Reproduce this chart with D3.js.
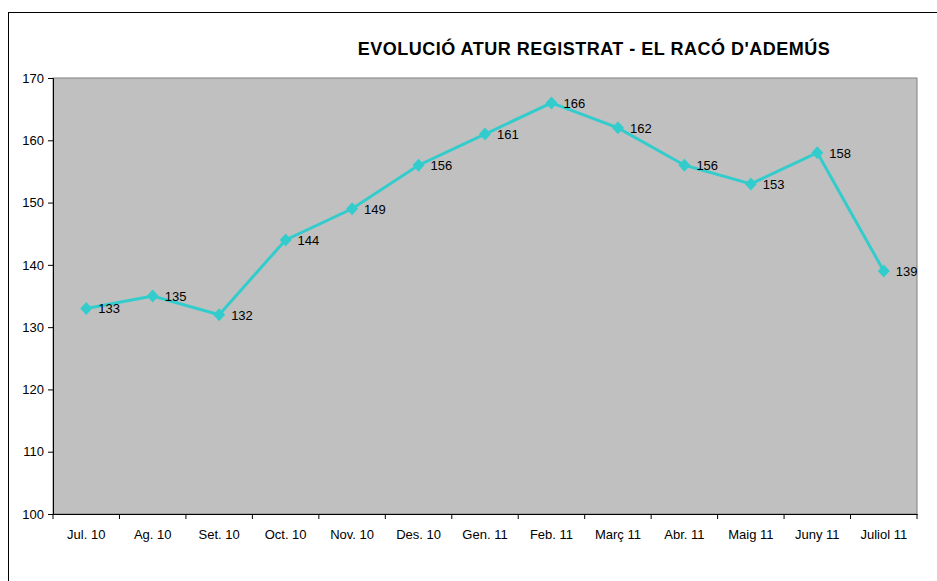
<!DOCTYPE html>
<html>
<head>
<meta charset="utf-8">
<script src="https://cdn.jsdelivr.net/npm/d3@7"></script>
<style>
body { margin: 0; background: #fff; }
svg { display: block; font-family: "Liberation Sans", Arial, sans-serif; }
</style>
</head>
<body>
<svg id="graphique" width="937" height="581"></svg>
<script>
var mesos = ["Jul. 10", "Ag. 10", "Set. 10", "Oct. 10", "Nov. 10", "Des. 10", "Gen. 11", "Feb. 11", "Març 11", "Abr. 11", "Maig 11", "Juny 11", "Juliol 11"];
var aturats = [133, 135, 132, 144, 149, 156, 161, 166, 162, 156, 153, 158, 139];
var yTicks = [100, 110, 120, 130, 140, 150, 160, 170];

var graphique = d3.select("#graphique");
var MARGINS = { top: 78, right: 20, bottom: 67, left: 53 };
var WIDTH = 937, HEIGHT = 581;

// marc exterior
graphique.append("rect")
	.attr("x", 8.5).attr("y", 12.5)
	.attr("width", 940).attr("height", 600)
	.attr("fill", "none").attr("stroke", "#000").attr("stroke-width", 1);

// titol
graphique.append("text")
	.attr("x", 594).attr("y", 55)
	.attr("text-anchor", "middle")
	.attr("font-size", 18).attr("font-weight", "bold")
	.attr("letter-spacing", 0.5)
	.text("EVOLUCIÓ ATUR REGISTRAT - EL RACÓ D'ADEMÚS");

var xScale = d3.scaleBand().domain(mesos).range([MARGINS.left, WIDTH - MARGINS.right]);
var yScale = d3.scaleLinear().domain([100, 170]).range([HEIGHT - MARGINS.bottom, MARGINS.top]);

// fons gris
graphique.append("rect")
	.attr("x", MARGINS.left).attr("y", MARGINS.top)
	.attr("width", xScale.range()[1] - MARGINS.left)
	.attr("height", yScale(100) - yScale(170))
	.attr("fill", "#c0c0c0").attr("stroke", "#808080").attr("stroke-width", 1);

// eixos
var yAxis = d3.axisLeft(yScale).tickValues(yTicks).tickSize(5).tickPadding(4);
var gy = graphique.append("g")
	.attr("transform", "translate(" + MARGINS.left + ",0)")
	.call(yAxis);

var xAxis = d3.axisBottom(xScale).tickSize(0).tickPadding(16);
var gx = graphique.append("g")
	.attr("transform", "translate(0," + yScale(100) + ")")
	.call(xAxis);

// marques entre categories
var limits = mesos.map(function(d){ return xScale(d); }).concat([xScale.range()[1]]);
gx.selectAll(".limit").data(limits).enter().append("line")
	.attr("class", "limit")
	.attr("x1", function(d){ return d; }).attr("x2", function(d){ return d; })
	.attr("y1", 0).attr("y2", 5)
	.attr("stroke", "#000");

[gx, gy].forEach(function(g){
	g.selectAll("text").attr("font-size", 13).attr("fill", "#000")
		.attr("font-family", "'Liberation Sans', Arial, sans-serif");
	g.select(".domain").attr("stroke", "#000");
	g.selectAll(".tick line").attr("stroke", "#000");
});

// corba
var punts = mesos.map(function(m, i){ return { mes: m, valor: aturats[i] }; });
var xc = function(d){ return xScale(d.mes) + xScale.bandwidth() / 2; };

var line = d3.line().x(xc).y(function(d){ return yScale(d.valor); });
graphique.append("path")
	.attr("d", line(punts))
	.attr("stroke", "#33cccc").attr("stroke-width", 3)
	.attr("fill", "none");

// rombes
graphique.selectAll(".punt").data(punts).enter().append("path")
	.attr("class", "punt")
	.attr("d", "M0,-6.5L6,0L0,6.5L-6,0Z")
	.attr("transform", function(d){ return "translate(" + xc(d) + "," + yScale(d.valor) + ")"; })
	.attr("fill", "#33cccc");

graphique.selectAll(".etiqueta").data(punts).enter().append("text")
	.attr("class", "etiqueta")
	.attr("x", function(d){ return xc(d) + 12; })
	.attr("y", function(d){ return yScale(d.valor) + 5; })
	.attr("font-size", 13).attr("fill", "#000")
	.text(function(d){ return d.valor; });
</script>
</body>
</html>
